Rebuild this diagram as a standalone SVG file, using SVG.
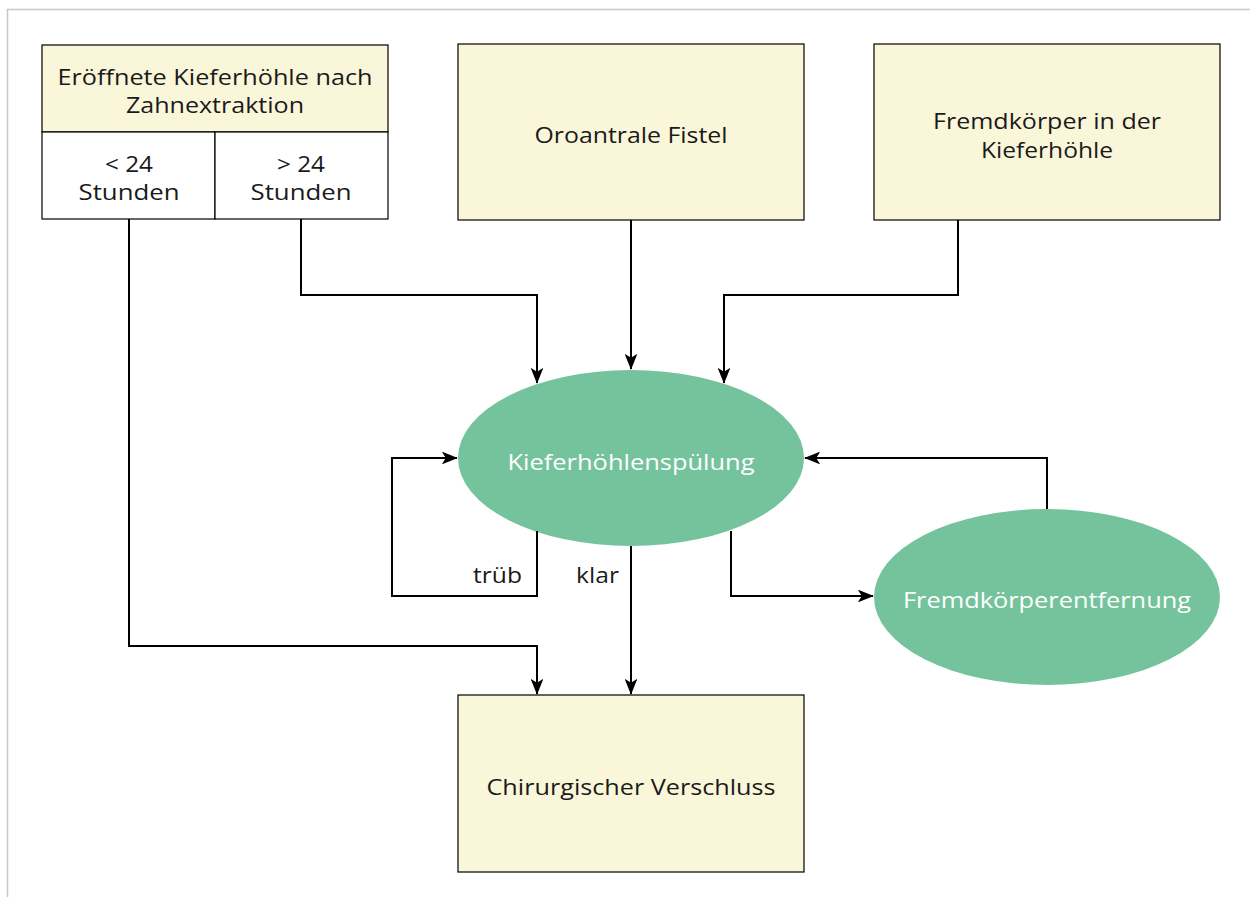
<svg xmlns="http://www.w3.org/2000/svg" width="1250" height="898" viewBox="0 0 1250 898">
<defs>
<marker id="ah" viewBox="0 0 20 16" refX="19" refY="8" markerWidth="16" markerHeight="12.8" markerUnits="userSpaceOnUse" orient="auto">
<path d="M0,0 L20,8 L0,16 L5,8 Z" fill="#000"/>
</marker>
<style>
.box{fill:#faf6d9;stroke:#000;stroke-width:1.2}
.cell{fill:#fff;stroke:#000;stroke-width:1.2}
.ell{fill:#74c39c}
.t{font-family:"Open Sans","Noto Sans",sans-serif;font-size:21px;fill:#1a1a1a;text-anchor:middle}
.w{fill:#fff}
.c{fill:none;stroke:#000;stroke-width:2;marker-end:url(#ah)}
</style>
</defs>
<rect width="1250" height="898" fill="#fff"/>
<path d="M7.5,897 V9.5 H1250" fill="none" stroke="#c8c8c8" stroke-width="1.5"/>
<g id="n-eroeffnete">
<rect class="box" x="42" y="45" width="346" height="87"/>
<text class="t" x="215" y="85" textLength="315" lengthAdjust="spacingAndGlyphs">Eröffnete Kieferhöhle nach</text>
<text class="t" x="215" y="113" textLength="178" lengthAdjust="spacingAndGlyphs">Zahnextraktion</text>
<rect class="cell" x="42" y="132" width="173" height="87"/>
<rect class="cell" x="215" y="132" width="173" height="87"/>
<text class="t" x="129" y="172" textLength="48" lengthAdjust="spacingAndGlyphs">&lt; 24</text>
<text class="t" x="129" y="200" textLength="101" lengthAdjust="spacingAndGlyphs">Stunden</text>
<text class="t" x="301" y="172" textLength="48" lengthAdjust="spacingAndGlyphs">&gt; 24</text>
<text class="t" x="301" y="200" textLength="101" lengthAdjust="spacingAndGlyphs">Stunden</text>
</g>
<g id="n-oroantral">
<rect class="box" x="458" y="44" width="346" height="176"/>
<text class="t" x="631" y="143" textLength="193" lengthAdjust="spacingAndGlyphs">Oroantrale Fistel</text>
</g>
<g id="n-fremdkoerper">
<rect class="box" x="874" y="44" width="346" height="176"/>
<text class="t" x="1047" y="129" textLength="228" lengthAdjust="spacingAndGlyphs">Fremdkörper in der</text>
<text class="t" x="1047" y="158" textLength="132" lengthAdjust="spacingAndGlyphs">Kieferhöhle</text>
</g>
<g id="n-spuelung">
<ellipse class="ell" cx="631" cy="458" rx="173" ry="88"/>
<text class="t w" x="631" y="470" textLength="247" lengthAdjust="spacingAndGlyphs">Kieferhöhlenspülung</text>
</g>
<g id="n-entfernung">
<ellipse class="ell" cx="1047" cy="597" rx="173" ry="88"/>
<text class="t w" x="1047" y="608" textLength="288" lengthAdjust="spacingAndGlyphs">Fremdkörperentfernung</text>
</g>
<g id="n-verschluss">
<rect class="box" x="458" y="695" width="346" height="177"/>
<text class="t" x="631" y="795" textLength="289" lengthAdjust="spacingAndGlyphs">Chirurgischer Verschluss</text>
</g>
<g id="connectors">
<path class="c" d="M129,219 V646 H537 V694"/>
<path class="c" d="M301,219 V295 H537 V383"/>
<path class="c" d="M631,220 V369"/>
<path class="c" d="M958,220 V295 H724 V383"/>
<path class="c" d="M537,531 V596 H392 V458 H457"/>
<path class="c" d="M631,546 V694"/>
<path class="c" d="M731,531 V596 H873"/>
<path class="c" d="M1047,509 V458 H805"/>
<text class="t" x="522" y="583" style="text-anchor:end" textLength="49" lengthAdjust="spacingAndGlyphs">trüb</text>
<text class="t" x="576" y="583" style="text-anchor:start" textLength="43" lengthAdjust="spacingAndGlyphs">klar</text>
</g>
</svg>
